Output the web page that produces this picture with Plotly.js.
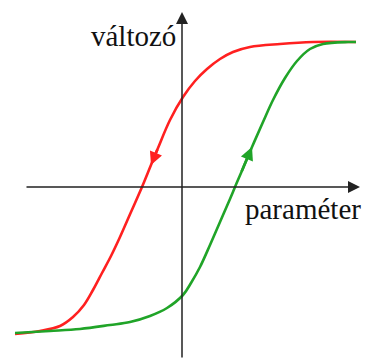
<!DOCTYPE html>
<html>
<head>
<meta charset="utf-8">
<script src="https://cdn.plot.ly/plotly-3.0.1.min.js"></script>
<style>html,body{margin:0;padding:0;background:#fff;}#chart{width:368px;height:358px;}</style>
</head>
<body>
<div id="chart"></div>
<script>
// Descending branch (red), traversed from right to left
const redX = [1.74,1.31,0.98,0.68,0.51,0.38,0.25,0.13,0.01,-0.12,-0.24,-0.31,-0.40,-0.51,-0.62,-0.71,-0.80,-0.89,-0.98,-1.09,-1.22,-1.42,-1.67];
const redY = [1.45,1.45,1.43,1.40,1.35,1.28,1.18,1.06,0.90,0.67,0.39,0.22,0,-0.25,-0.50,-0.69,-0.86,-1.03,-1.18,-1.30,-1.39,-1.44,-1.47];
// Ascending branch (green), traversed from left to right
const greenX = [-1.67,-1.32,-1.02,-0.72,-0.52,-0.32,-0.15,0.01,0.09,0.18,0.28,0.38,0.48,0.53,0.59,0.70,0.81,0.91,1.03,1.15,1.28,1.41,1.66,1.74];
const greenY = [-1.46,-1.44,-1.42,-1.38,-1.35,-1.29,-1.21,-1.08,-0.96,-0.80,-0.58,-0.35,-0.12,0,0.14,0.40,0.65,0.87,1.09,1.26,1.38,1.43,1.45,1.45];
const xAxisLabel = "paraméter";
const yAxisLabel = "változó";
const axisExtentX = [-1.57, 1.78];
const axisExtentY = [-1.72, 1.75];
const redArrowIdx = 11;
const greenArrowIdx = 15;

const RED = "#ff2020", GREEN = "#20a428", AX = "#222222";
const SERIF = "Liberation Serif";

const traces = [
  {x: redX, y: redY, mode: "lines", line: {color: RED, width: 2.6, shape: "spline", smoothing: 1}, hoverinfo: "skip"},
  {x: greenX, y: greenY, mode: "lines", line: {color: GREEN, width: 2.6, shape: "spline", smoothing: 1}, hoverinfo: "skip"}
];

function arrowAnn(xs, ys, i, color, w, size) {
  return {x: xs[i], y: ys[i], ax: xs[i-1], ay: ys[i-1], axref: "x", ayref: "y", xref: "x", yref: "y",
    text: "", showarrow: true, arrowhead: 2, arrowsize: size, arrowwidth: w, arrowcolor: color, standoff: 0, startstandoff: 0};
}

const annotations = [
  {x: axisExtentX[1], y: 0, ax: axisExtentX[0], ay: 0, axref: "x", ayref: "y", xref: "x", yref: "y",
   text: "", showarrow: true, arrowhead: 2, arrowsize: 1.6, arrowwidth: 1.5, arrowcolor: AX, standoff: 0},
  {x: 0, y: axisExtentY[1], ax: 0, ay: axisExtentY[0], axref: "x", ayref: "y", xref: "x", yref: "y",
   text: "", showarrow: true, arrowhead: 2, arrowsize: 1.6, arrowwidth: 1.5, arrowcolor: AX, standoff: 0},
  arrowAnn(redX, redY, redArrowIdx, RED, 2.6, 1.0),
  arrowAnn(greenX, greenY, greenArrowIdx, GREEN, 2.6, 1.0),
  {x: -0.04, y: 1.51, xref: "x", yref: "y", text: yAxisLabel, showarrow: false, xanchor: "right", yanchor: "middle",
   font: {family: SERIF, size: 29, color: "#111"}},
  {x: 0.61, y: -0.22, xref: "x", yref: "y", text: xAxisLabel, showarrow: false, xanchor: "left", yanchor: "middle",
   font: {family: SERIF, size: 29, color: "#111"}}
];

const layout = {
  width: 368, height: 358,
  margin: {l: 0, r: 0, t: 0, b: 0},
  paper_bgcolor: "#fff", plot_bgcolor: "#fff",
  showlegend: false,
  font: {family: SERIF},
  xaxis: {range: [-1.82, 1.86], visible: false, fixedrange: true},
  yaxis: {range: [-1.71, 1.87], visible: false, fixedrange: true},
  annotations: annotations
};

Plotly.newPlot("chart", traces, layout, {staticPlot: true, displayModeBar: false});
</script>
</body>
</html>
